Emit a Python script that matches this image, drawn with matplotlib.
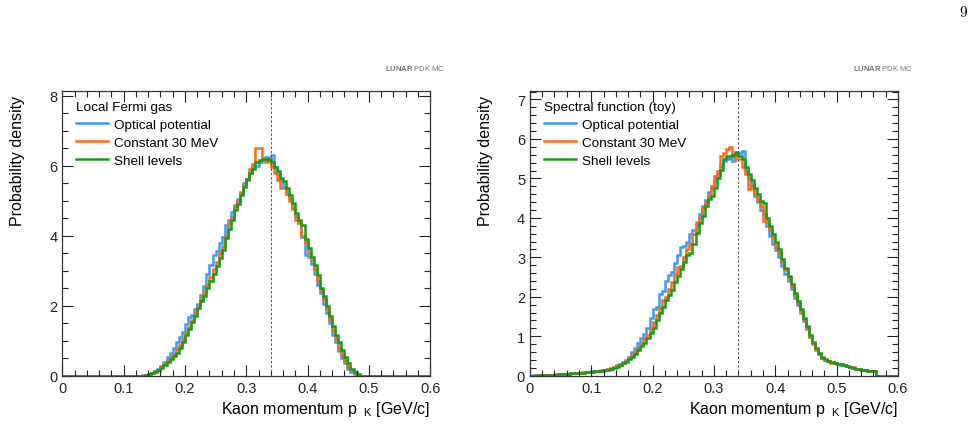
import numpy as np
import matplotlib
matplotlib.use("Agg")
import matplotlib.pyplot as plt
from matplotlib.ticker import MultipleLocator

plt.rcParams['font.family'] = ['Liberation Sans', 'DejaVu Sans']
plt.rcParams['mathtext.fontset'] = 'custom'
plt.rcParams['mathtext.rm'] = 'Liberation Sans'
plt.rcParams['mathtext.bf'] = 'Liberation Sans:bold'

bin_width = 0.005

# ---- left panel: Local Fermi gas, bins start at 0.130 ----
lfg_start = 0.130
lfg_optical = [0.01, 0.03, 0.05, 0.09, 0.13, 0.20, 0.28, 0.40, 0.52, 0.65,
               0.78, 0.95, 1.10, 1.25, 1.48, 1.68, 1.72, 1.90, 2.05, 2.30,
               2.55, 2.90, 3.15, 3.45, 3.55, 3.80, 3.95, 4.30, 4.45, 4.68,
               4.88, 5.05, 5.22, 5.52, 5.62, 5.80, 5.95, 6.00, 6.12, 6.15,
               6.25, 6.22, 6.30, 5.95, 5.75, 5.55, 5.38, 5.20, 5.05, 4.80,
               4.55, 4.35, 3.95, 3.45, 3.40, 3.20, 2.90, 2.60, 2.35, 2.05,
               1.80, 1.50, 1.15, 0.95, 0.70, 0.50, 0.35, 0.20, 0.10, 0.04,
               0.01, 0.0]
lfg_const30 = [0.0, 0.02, 0.04, 0.08, 0.12, 0.17, 0.24, 0.33, 0.43, 0.52,
               0.62, 0.75, 0.88, 1.05, 1.22, 1.40, 1.60, 1.80, 2.00, 2.18,
               2.38, 2.60, 2.82, 3.05, 3.25, 3.50, 3.70, 4.00, 4.35, 4.50,
               4.85, 5.00, 5.25, 5.45, 5.60, 5.90, 6.05, 6.52, 6.50, 6.15,
               6.10, 6.20, 5.95, 5.80, 5.60, 5.35, 5.35, 5.20, 5.00, 4.75,
               4.45, 4.35, 4.00, 3.80, 3.50, 3.30, 3.05, 2.70, 2.45, 2.20,
               1.90, 1.60, 1.30, 1.05, 0.80, 0.60, 0.42, 0.25, 0.15, 0.07,
               0.02, 0.0]
lfg_shell = [0.0, 0.02, 0.04, 0.07, 0.10, 0.15, 0.22, 0.30, 0.38, 0.47,
             0.56, 0.66, 0.78, 0.95, 1.15, 1.32, 1.52, 1.70, 1.92, 2.12,
             2.28, 2.50, 2.70, 2.90, 3.12, 3.35, 3.60, 3.92, 4.20, 4.45,
             4.72, 4.90, 5.15, 5.38, 5.62, 5.78, 5.92, 6.10, 6.15, 6.18,
             6.20, 6.15, 6.12, 5.95, 5.85, 5.65, 5.55, 5.35, 5.15, 4.92,
             4.65, 4.45, 4.30, 3.90, 3.65, 3.40, 3.15, 2.88, 2.50, 2.28,
             1.98, 1.70, 1.42, 1.15, 0.95, 0.72, 0.52, 0.35, 0.20, 0.10,
             0.04, 0.0]

# ---- right panel: Spectral function (toy), bins start at 0.000 ----
sf_start = 0.0
sf_optical = [0.00, 0.01, 0.01, 0.02, 0.02, 0.02, 0.03, 0.03, 0.04, 0.04,
              0.04, 0.05, 0.05, 0.06, 0.07, 0.07, 0.08, 0.09, 0.09, 0.10,
              0.11, 0.12, 0.13, 0.14, 0.15, 0.17, 0.19, 0.22, 0.26, 0.30,
              0.35, 0.40, 0.48, 0.60, 0.70, 0.82, 0.95, 1.05, 1.20, 1.45,
              1.68, 1.75, 2.08, 2.15, 2.40, 2.55, 2.62, 2.85, 3.05, 3.25,
              3.28, 3.40, 3.58, 3.70, 3.82, 4.10, 4.30, 4.45, 4.65, 4.80,
              4.95, 5.10, 5.32, 5.45, 5.48, 5.52, 5.45, 5.60, 5.65, 5.70,
              5.20, 5.00, 4.80, 4.55, 4.40, 4.20, 4.10, 3.80, 3.55, 3.35,
              3.18, 3.00, 2.78, 2.58, 2.40, 2.20, 1.98, 1.78, 1.58, 1.38,
              1.18, 0.98, 0.82, 0.68, 0.56, 0.46, 0.40, 0.37, 0.34, 0.31,
              0.30, 0.28, 0.26, 0.24, 0.22, 0.20, 0.18, 0.16, 0.15, 0.14,
              0.13, 0.12, 0.12, 0.0]
sf_const30 = [0.00, 0.00, 0.01, 0.01, 0.02, 0.02, 0.02, 0.03, 0.03, 0.04,
              0.04, 0.05, 0.05, 0.06, 0.06, 0.07, 0.08, 0.08, 0.09, 0.10,
              0.10, 0.11, 0.12, 0.13, 0.14, 0.16, 0.18, 0.21, 0.24, 0.28,
              0.32, 0.37, 0.44, 0.52, 0.60, 0.70, 0.80, 0.92, 1.02, 1.18,
              1.35, 1.55, 1.72, 1.92, 2.00, 2.20, 2.38, 2.58, 2.75, 2.78,
              3.00, 3.22, 3.35, 3.58, 3.90, 4.00, 4.25, 4.40, 4.55, 4.78,
              5.05, 5.20, 5.58, 5.65, 5.75, 5.80, 5.62, 5.48, 5.50, 5.30,
              5.12, 4.72, 4.85, 4.60, 4.45, 4.30, 3.92, 3.90, 3.70, 3.48,
              3.25, 3.10, 2.90, 2.68, 2.48, 2.25, 2.05, 1.85, 1.62, 1.40,
              1.20, 0.98, 0.80, 0.65, 0.54, 0.46, 0.40, 0.36, 0.33, 0.31,
              0.30, 0.29, 0.27, 0.25, 0.23, 0.21, 0.18, 0.16, 0.15, 0.14,
              0.13, 0.12, 0.12, 0.0]
sf_shell = [0.00, 0.00, 0.01, 0.01, 0.02, 0.02, 0.03, 0.03, 0.03, 0.04,
            0.04, 0.05, 0.05, 0.06, 0.07, 0.07, 0.08, 0.08, 0.09, 0.09,
            0.10, 0.11, 0.12, 0.13, 0.14, 0.15, 0.17, 0.20, 0.23, 0.27,
            0.31, 0.35, 0.42, 0.48, 0.55, 0.64, 0.74, 0.84, 0.95, 1.08,
            1.22, 1.40, 1.58, 1.75, 1.92, 2.05, 2.18, 2.38, 2.52, 2.70,
            2.88, 3.05, 3.12, 3.35, 3.62, 3.88, 4.05, 4.30, 4.48, 4.55,
            4.76, 5.00, 5.22, 5.50, 5.56, 5.58, 5.60, 5.68, 5.56, 5.50,
            5.30, 5.12, 4.95, 4.75, 4.60, 4.42, 4.38, 4.00, 3.80, 3.58,
            3.38, 3.20, 2.95, 2.72, 2.52, 2.32, 2.10, 1.90, 1.68, 1.45,
            1.25, 1.02, 0.85, 0.70, 0.58, 0.48, 0.42, 0.38, 0.34, 0.32,
            0.30, 0.29, 0.27, 0.24, 0.21, 0.19, 0.17, 0.16, 0.15, 0.14,
            0.13, 0.12, 0.12, 0.0]

series_labels = ['Optical potential', 'Constant 30 MeV', 'Shell levels']
series_colors = ['#3d9cf2', '#ff6a1a', '#1a9a1a']
ref_momentum = 0.34

panels = [
    ('Local Fermi gas', lfg_start, [lfg_optical, lfg_const30, lfg_shell], 8.14, 2, 0.5),
    ('Spectral function (toy)', sf_start, [sf_optical, sf_const30, sf_shell], 7.22, 1, 0.2),
]

fig = plt.figure(figsize=(9.76, 4.31), dpi=100)
axes_pos = [[0.0638, 0.126, 0.377, 0.661], [0.543, 0.126, 0.377, 0.661]]

for pos, (title, start, series, ymax, ymaj, ymin) in zip(axes_pos, panels):
    ax = fig.add_axes(pos)
    for vals, lab, col in zip(series, series_labels, series_colors):
        vals = np.asarray(vals)
        edges = start + bin_width * np.arange(len(vals) + 1)
        # pad to the full axis range so the baseline is drawn at zero
        if start > 0:
            edges = np.concatenate(([0.0], edges))
            vals = np.concatenate(([0.0], vals))
        edges = np.concatenate((edges, [0.6]))
        vals = np.concatenate((vals, [0.0]))
        ax.stairs(vals, edges, color=col, lw=1.8, label=lab)
    ax.axvline(ref_momentum, color='#555555', lw=0.7, ls=(0, (2.5, 2)))
    ax.set_xlim(0, 0.6)
    ax.set_ylim(0, ymax)
    ax.xaxis.set_major_locator(MultipleLocator(0.1))
    ax.xaxis.set_minor_locator(MultipleLocator(0.02))
    ax.yaxis.set_major_locator(MultipleLocator(ymaj))
    ax.yaxis.set_minor_locator(MultipleLocator(ymin))
    ax.tick_params(which='both', direction='in', top=True, right=True,
                   colors='#222222', labelsize=10.5, width=0.8)
    ax.tick_params(which='major', length=8)
    ax.tick_params(which='minor', length=4)
    ax.xaxis.set_major_formatter(plt.FuncFormatter(lambda v, p: '0' if abs(v) < 1e-9 else f'{v:g}'))
    for s in ax.spines.values():
        s.set_color('#333333')
        s.set_linewidth(0.9)
    ax.set_xlabel(r'Kaon momentum p$_{\ \ \rm K}$ [GeV/c]', fontsize=11.5, loc='right', labelpad=3)
    ax.set_ylabel('Probability density', fontsize=11.5, loc='top')
    ax.yaxis.set_label_coords(-0.10, 0.985)
    ax.legend(title=title, loc='upper left', frameon=False, fontsize=9.7,
              title_fontsize=9.7, alignment='left', handlelength=2.4,
              handletextpad=0.45, labelspacing=0.42, borderaxespad=0.35,
              bbox_to_anchor=(0.01, 1.0))
    fig.text(pos[0] + pos[2] + 0.0155, 0.840, r'$\mathbf{LUNAR}$ PDK MC', ha='right', va='center',
             fontsize=5.5, color='#777777')

fig.text(0.987, 0.970, '9', ha='center', va='center', fontsize=11, family='cmr10')
fig.savefig('out.png', dpi=100)
